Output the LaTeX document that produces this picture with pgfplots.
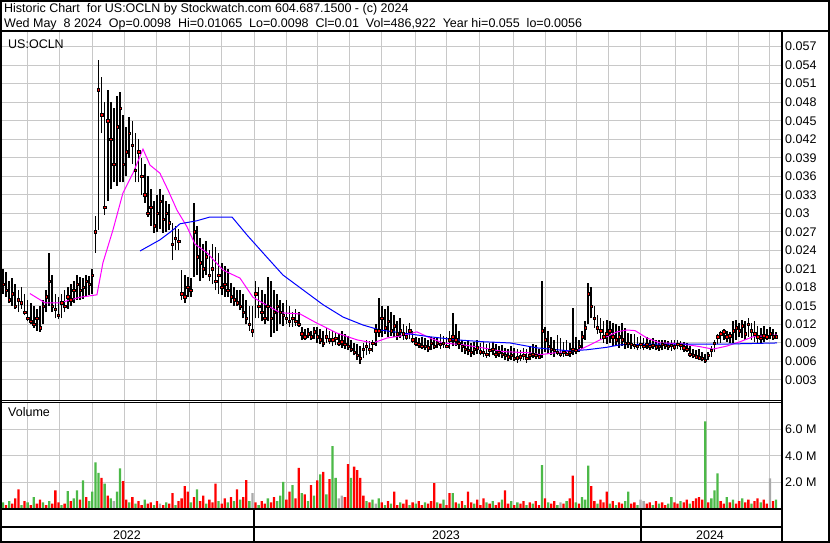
\documentclass[border=0pt]{standalone}
\usepackage{pgfplots}
\pgfplotsset{compat=1.18}
\usepackage{pgfplotstable}
\usepackage{fontspec}
\setmainfont{Liberation Sans}
\definecolor{gridc}{RGB}{200,200,200}
\definecolor{vred}{RGB}{255,0,0}
\definecolor{vgreen}{RGB}{76,185,72}
\definecolor{vgray}{RGB}{170,170,170}
\definecolor{mablue}{RGB}{0,0,255}
\definecolor{mamag}{RGB}{255,0,255}

\pgfplotstableread{
d h l c
0 0.0210 0.0170 0.0185
2 0.0205 0.0165 0.0175
4 0.0190 0.0155 0.0160
6 0.0195 0.0150 0.0170
8 0.0185 0.0145 0.0150
10 0.0175 0.0140 0.0160
12 0.0180 0.0145 0.0155
14 0.0170 0.0135 0.0140
16 0.0160 0.0125 0.0130
18 0.0155 0.0120 0.0125
20 0.0150 0.0115 0.0120
22 0.0145 0.0110 0.0130
24 0.0150 0.0108 0.0115
26 0.0160 0.0120 0.0150
28 0.0175 0.0140 0.0165
30 0.0235 0.0150 0.0190
32 0.0200 0.0140 0.0150
34 0.0170 0.0130 0.0145
36 0.0165 0.0128 0.0135
38 0.0170 0.0130 0.0155
40 0.0175 0.0140 0.0150
42 0.0180 0.0145 0.0165
44 0.0185 0.0150 0.0160
46 0.0190 0.0155 0.0175
48 0.0200 0.0160 0.0185
50 0.0197 0.0160 0.0175
52 0.0195 0.0162 0.0180
54 0.0200 0.0165 0.0190
56 0.0198 0.0168 0.0185
58 0.0210 0.0170 0.0200
60 0.0296 0.0236 0.0270
62 0.0549 0.0273 0.0500
64 0.0520 0.0430 0.0460
66 0.0480 0.0297 0.0310
68 0.0500 0.0320 0.0450
70 0.0480 0.0340 0.0420
72 0.0470 0.0350 0.0380
74 0.0490 0.0345 0.0440
76 0.0497 0.0350 0.0470
78 0.0460 0.0350 0.0380
80 0.0440 0.0360 0.0400
82 0.0456 0.0390 0.0430
84 0.0450 0.0380 0.0410
86 0.0430 0.0350 0.0370
88 0.0420 0.0350 0.0400
90 0.0390 0.0330 0.0360
92 0.0380 0.0317 0.0330
94 0.0360 0.0294 0.0300
96 0.0340 0.0280 0.0310
98 0.0320 0.0268 0.0280
100 0.0330 0.0270 0.0300
102 0.0340 0.0275 0.0320
104 0.0330 0.0268 0.0290
106 0.0320 0.0270 0.0300
108 0.0315 0.0273 0.0285
110 0.0284 0.0224 0.0250
112 0.0280 0.0240 0.0260
114 0.0275 0.0240 0.0255
116 0.0208 0.0160 0.0170
118 0.0200 0.0155 0.0165
120 0.0197 0.0164 0.0180
122 0.0195 0.0165 0.0175
124 0.0317 0.0197 0.0270
126 0.0280 0.0200 0.0230
128 0.0260 0.0190 0.0220
130 0.0250 0.0195 0.0210
132 0.0255 0.0200 0.0230
134 0.0240 0.0190 0.0200
136 0.0250 0.0185 0.0210
138 0.0245 0.0175 0.0190
140 0.0235 0.0170 0.0200
142 0.0220 0.0168 0.0180
144 0.0215 0.0165 0.0185
146 0.0210 0.0165 0.0175
148 0.0187 0.0155 0.0165
150 0.0180 0.0150 0.0160
152 0.0175 0.0150 0.0155
154 0.0176 0.0143 0.0150
156 0.0170 0.0130 0.0140
158 0.0160 0.0120 0.0130
160 0.0150 0.0110 0.0120
162 0.0150 0.0100 0.0110
164 0.0190 0.0130 0.0170
166 0.0180 0.0130 0.0150
168 0.0175 0.0125 0.0140
170 0.0170 0.0120 0.0130
172 0.0197 0.0125 0.0150
174 0.0190 0.0100 0.0130
176 0.0176 0.0106 0.0140
178 0.0170 0.0110 0.0150
180 0.0160 0.0120 0.0140
182 0.0155 0.0118 0.0135
184 0.0160 0.0120 0.0130
186 0.0150 0.0116 0.0125
188 0.0140 0.0116 0.0130
190 0.0145 0.0118 0.0125
192 0.0140 0.0116 0.0120
194 0.0116 0.0095 0.0105
196 0.0112 0.0095 0.0100
198 0.0115 0.0098 0.0105
200 0.0110 0.0095 0.0100
202 0.0116 0.0096 0.0108
204 0.0116 0.0090 0.0100
206 0.0112 0.0088 0.0095
208 0.0110 0.0083 0.0090
210 0.0114 0.0090 0.0100
212 0.0110 0.0088 0.0095
214 0.0110 0.0085 0.0095
216 0.0108 0.0086 0.0098
218 0.0105 0.0085 0.0090
220 0.0110 0.0082 0.0092
222 0.0105 0.0080 0.0088
224 0.0102 0.0079 0.0085
226 0.0095 0.0075 0.0080
228 0.0090 0.0070 0.0075
230 0.0088 0.0062 0.0070
232 0.0085 0.0056 0.0065
234 0.0090 0.0065 0.0080
236 0.0095 0.0070 0.0085
238 0.0093 0.0072 0.0080
240 0.0095 0.0075 0.0090
242 0.0120 0.0085 0.0110
244 0.0163 0.0100 0.0110
246 0.0150 0.0100 0.0130
248 0.0145 0.0105 0.0115
250 0.0150 0.0100 0.0125
252 0.0140 0.0102 0.0110
254 0.0135 0.0100 0.0118
256 0.0125 0.0095 0.0105
258 0.0130 0.0098 0.0110
260 0.0120 0.0095 0.0105
262 0.0118 0.0095 0.0100
264 0.0122 0.0096 0.0110
266 0.0110 0.0090 0.0095
268 0.0100 0.0085 0.0090
270 0.0098 0.0082 0.0088
272 0.0100 0.0080 0.0085
274 0.0098 0.0078 0.0085
276 0.0095 0.0075 0.0082
278 0.0100 0.0078 0.0090
280 0.0098 0.0080 0.0085
282 0.0100 0.0082 0.0090
284 0.0105 0.0080 0.0088
286 0.0102 0.0082 0.0090
288 0.0100 0.0082 0.0085
290 0.0110 0.0080 0.0095
292 0.0139 0.0085 0.0100
294 0.0120 0.0085 0.0095
296 0.0110 0.0080 0.0090
298 0.0095 0.0075 0.0085
300 0.0092 0.0072 0.0080
302 0.0095 0.0070 0.0078
304 0.0090 0.0068 0.0075
306 0.0092 0.0070 0.0080
308 0.0095 0.0072 0.0082
310 0.0090 0.0070 0.0076
312 0.0092 0.0068 0.0075
314 0.0088 0.0066 0.0072
316 0.0090 0.0068 0.0078
318 0.0092 0.0070 0.0080
320 0.0088 0.0066 0.0072
322 0.0085 0.0068 0.0075
324 0.0086 0.0065 0.0072
326 0.0082 0.0062 0.0070
328 0.0080 0.0060 0.0068
330 0.0085 0.0062 0.0070
332 0.0082 0.0060 0.0065
334 0.0080 0.0058 0.0066
336 0.0079 0.0060 0.0068
338 0.0082 0.0062 0.0070
340 0.0080 0.0058 0.0065
342 0.0085 0.0062 0.0070
344 0.0088 0.0065 0.0072
346 0.0086 0.0064 0.0070
348 0.0080 0.0065 0.0068
350 0.0190 0.0066 0.0110
352 0.0116 0.0075 0.0095
354 0.0110 0.0072 0.0085
356 0.0100 0.0070 0.0080
358 0.0095 0.0068 0.0078
360 0.0103 0.0070 0.0075
362 0.0098 0.0068 0.0072
364 0.0092 0.0068 0.0075
366 0.0095 0.0070 0.0072
368 0.0090 0.0068 0.0075
370 0.0147 0.0070 0.0080
372 0.0100 0.0072 0.0078
374 0.0095 0.0075 0.0085
376 0.0110 0.0080 0.0100
378 0.0125 0.0095 0.0115
380 0.0187 0.0120 0.0170
382 0.0180 0.0130 0.0150
384 0.0150 0.0115 0.0130
386 0.0135 0.0105 0.0115
388 0.0130 0.0095 0.0110
390 0.0125 0.0090 0.0100
392 0.0127 0.0088 0.0105
394 0.0125 0.0090 0.0110
396 0.0122 0.0085 0.0100
398 0.0120 0.0085 0.0095
400 0.0118 0.0082 0.0100
402 0.0122 0.0085 0.0095
404 0.0115 0.0080 0.0090
406 0.0106 0.0082 0.0090
408 0.0105 0.0080 0.0088
410 0.0104 0.0080 0.0086
412 0.0100 0.0078 0.0085
414 0.0102 0.0080 0.0088
416 0.0098 0.0078 0.0085
418 0.0100 0.0080 0.0088
420 0.0095 0.0078 0.0085
422 0.0098 0.0080 0.0086
424 0.0095 0.0078 0.0084
426 0.0094 0.0077 0.0085
428 0.0095 0.0078 0.0088
430 0.0094 0.0080 0.0086
432 0.0093 0.0078 0.0085
434 0.0095 0.0077 0.0086
436 0.0094 0.0078 0.0084
438 0.0095 0.0080 0.0088
440 0.0093 0.0078 0.0086
442 0.0092 0.0076 0.0082
444 0.0090 0.0076 0.0080
446 0.0085 0.0068 0.0072
448 0.0080 0.0065 0.0070
450 0.0078 0.0064 0.0068
452 0.0080 0.0062 0.0066
454 0.0075 0.0060 0.0065
456 0.0072 0.0058 0.0062
458 0.0076 0.0062 0.0070
460 0.0085 0.0068 0.0078
462 0.0095 0.0075 0.0090
464 0.0105 0.0088 0.0100
466 0.0110 0.0090 0.0105
468 0.0112 0.0095 0.0108
470 0.0110 0.0092 0.0100
472 0.0108 0.0090 0.0102
474 0.0125 0.0090 0.0110
476 0.0127 0.0095 0.0115
478 0.0122 0.0100 0.0110
480 0.0127 0.0098 0.0118
482 0.0125 0.0095 0.0105
484 0.0130 0.0100 0.0120
486 0.0122 0.0095 0.0110
488 0.0125 0.0092 0.0105
490 0.0118 0.0090 0.0100
492 0.0115 0.0090 0.0098
494 0.0118 0.0092 0.0102
496 0.0112 0.0095 0.0100
498 0.0116 0.0096 0.0105
500 0.0112 0.0095 0.0100
502 0.0107 0.0098 0.0100
}\ohlc

\pgfplotstableread{
d v
2 0.3
6 0.4
8 0.8
10 1.47
14 0.6
18 0.3
22 0.4
24 0.7
28 0.3
32 0.4
34 1.4
36 0.5
40 0.4
44 0.6
50 0.7
54 0.9
64 2.34
68 1.0
78 2.1
80 0.7
84 0.9
88 0.6
90 0.3
94 0.4
96 0.5
100 0.6
104 0.3
108 0.4
110 1.2
114 0.6
116 0.8
118 1.72
120 1.3
124 0.9
128 0.6
130 1.0
134 0.7
136 0.5
138 1.9
142 0.4
144 0.8
148 0.9
152 1.47
156 0.9
158 2.18
164 0.5
168 0.6
170 0.4
174 0.5
176 0.9
184 0.7
186 1.3
190 0.8
192 3.1
196 1.1
200 1.8
204 2.16
208 2.8
212 2.24
222 0.9
224 3.37
228 3.19
230 2.93
232 2.34
234 1.0
238 0.5
246 0.5
250 0.6
254 1.3
256 0.3
260 0.4
262 0.7
266 0.5
270 0.6
272 0.3
276 0.4
278 0.6
280 1.95
284 0.4
288 0.3
290 1.2
294 0.5
298 0.6
302 1.3
304 0.5
308 0.7
310 0.3
312 0.8
316 0.4
320 0.3
322 0.5
326 1.4
328 0.4
332 0.3
336 0.4
338 0.6
342 0.5
346 0.6
348 0.3
352 0.8
356 0.4
358 0.6
364 0.4
368 0.8
370 2.5
374 0.4
382 1.72
384 0.6
388 0.7
390 0.5
392 1.3
396 0.6
400 0.5
402 0.4
408 0.4
410 0.5
418 0.4
420 0.5
424 0.6
428 0.5
430 0.3
436 0.5
438 0.4
442 0.5
444 0.7
448 0.6
450 0.8
452 0.9
454 0.7
458 0.5
466 0.6
468 0.4
472 0.5
476 0.4
478 0.6
482 0.5
484 0.7
488 0.6
490 0.8
494 0.7
496 0.4
500 0.6
}\volred

\pgfplotstableread{
d v
0 0.5
4 0.6
12 0.3
16 0.5
20 0.9
26 0.5
30 0.6
38 0.3
42 1.34
46 0.8
48 1.4
52 2.16
56 0.6
58 1.3
60 3.5
62 2.72
66 1.9
70 0.8
74 1.3
76 3.06
82 0.5
86 0.4
92 0.7
98 0.3
106 0.5
112 0.3
122 0.5
126 1.47
132 0.4
140 0.6
146 0.5
150 0.6
154 0.7
160 0.6
166 0.3
172 0.8
178 0.6
180 1.0
182 2.03
188 1.8
194 1.2
198 0.6
202 1.0
206 2.6
210 1.1
214 4.73
216 2.34
226 2.34
236 0.6
240 0.7
244 0.8
248 0.3
252 0.4
258 0.5
264 0.3
268 0.4
274 0.5
282 0.5
286 0.7
292 1.2
296 0.4
300 0.3
306 0.4
314 0.5
318 0.6
324 0.7
330 0.6
334 0.5
340 0.3
344 0.4
350 3.3
354 0.5
360 0.3
366 0.6
372 0.5
376 0.9
378 0.7
380 3.26
386 0.4
394 0.4
398 0.3
404 0.6
406 1.3
412 0.3
422 0.3
426 0.4
432 0.4
434 0.9
440 0.6
446 0.4
456 6.58
460 0.8
462 1.4
464 2.67
470 0.9
474 0.7
480 0.8
486 0.4
492 0.5
502 0.7
}\volgreen

\pgfplotstableread{
d v
72 0.6
102 0.4
162 1.2
218 0.8
220 1.0
242 0.4
362 0.5
414 0.7
416 0.6
498 2.3
}\volgray

\newcommand{\monthticks}{16,36.6,58.2,78.8,99.5,120.8,142.2,163,183.8,204.5,224.7,245.5,267.9,288.3,309.1,331.5,352,372.7,393.5,413.9,436.4,457.1,477.6,498}

\pgfplotsset{stw/.style={anchor=south west, scale only axis, width=779pt,
  xmin=-0.65, xmax=505.2,
  axis line style={draw=none}, major tick length=0pt, tick style={draw=none},
  xtick/.expand once={\monthticks}, xticklabels={},
  scaled y ticks=false, scaled x ticks=false,
  xmajorgrids, ymajorgrids, grid style={gridc, line width=1pt},
  yticklabel pos=right,
  yticklabel style={anchor=west, inner sep=0pt, xshift=4pt, font=\fontsize{12.5}{13}\selectfont}}}

\begin{document}
\begin{tikzpicture}
\useasboundingbox (0pt,0pt) rectangle (830pt,543pt);
\fill[white] (0pt,0pt) rectangle (830pt,543pt);

% price panel
\begin{axis}[stw, at={(2pt,143pt)}, height=368pt,
  ymin=-0.00024, ymax=0.05937,
  ytick={0.003,0.006,0.009,0.012,0.015,0.018,0.021,0.024,0.027,0.03,0.033,0.036,0.039,0.042,0.045,0.048,0.051,0.054,0.057},
  yticklabels={0.003,0.006,0.009,0.012,0.015,0.018,0.021,0.024,0.027,0.03,0.033,0.036,0.039,0.042,0.045,0.048,0.051,0.054,0.057},
  ]
\addplot[draw=none, mark=none,
  error bars/.cd, y dir=plus, y explicit, error mark=none,
  error bar style={draw=black, line width=1.7pt}]
  table[x=d, y=l, y error plus expr=\thisrow{h}-\thisrow{l}] {\ohlc};
\addplot[only marks, mark=square*, mark size=1.2pt, mark options={fill=red, draw=none}]
  table[x=d, y=c] {\ohlc};
\addplot[mamag, line width=1pt] coordinates {
(17.5,0.0170) (27.3,0.0155) (37.0,0.0155) (50.0,0.0164) (61.0,0.0168) (64.9,0.0220)
(71.4,0.0273) (77.9,0.0333) (84.4,0.0365) (90.9,0.0404) (95.5,0.0378) (101.9,0.0365)
(107.1,0.0338) (113.0,0.0305) (119.5,0.0278) (124.7,0.0250) (132.5,0.0236) (142.9,0.0208)
(153.9,0.0195) (162.3,0.0164) (173.4,0.0148) (179.9,0.0139) (192.9,0.0137) (203.9,0.0122)
(216.9,0.0106) (229.9,0.0095) (240.3,0.0090) (249.4,0.0098) (259.7,0.0102) (268.8,0.0108)
(277.3,0.0098) (285.7,0.0090) (298.7,0.0087) (311.7,0.0082) (324.7,0.0076) (342.2,0.0074)
(348.7,0.0071) (361.7,0.0075) (374.7,0.0079) (387.7,0.0095) (398.7,0.0108) (405.2,0.0111)
(410.4,0.0110) (418.2,0.0098) (426.6,0.0090) (439.6,0.0089) (452.6,0.0084) (461.0,0.0080)
(470.1,0.0085) (478.6,0.0092) (487.0,0.0100) (502.6,0.0103)};
\addplot[mablue, line width=1pt] coordinates {
(89.0,0.0239) (101.9,0.0257) (110.4,0.0273) (114.9,0.0283) (126.0,0.0288) (134.4,0.0294)
(148.7,0.0294) (158.4,0.0265) (168.8,0.0236) (181.8,0.0200) (194.8,0.0176) (207.8,0.0152)
(220.8,0.0132) (233.8,0.0119) (244.8,0.0111) (259.7,0.0106) (277.3,0.0100) (294.8,0.0095)
(311.7,0.0092) (329.2,0.0090) (346.8,0.0082) (368.2,0.0077) (379.2,0.0079) (392.2,0.0083)
(400.6,0.0087) (422.1,0.0088) (465.6,0.0088) (502.6,0.0090)};
\end{axis}

% volume panel
\begin{axis}[stw, at={(2pt,34pt)}, height=106pt,
  ymin=0, ymax=7.97,
  ytick={2,4,6}, yticklabels={2.0 M,4.0 M,6.0 M},
  ]
\addplot[ybar, bar width=2.3pt, bar shift=0pt, fill=vred, draw=none] table[x=d, y=v] {\volred};
\addplot[ybar, bar width=2.3pt, bar shift=0pt, fill=vgreen, draw=none] table[x=d, y=v] {\volgreen};
\addplot[ybar, bar width=2.3pt, bar shift=0pt, fill=vgray, draw=none] table[x=d, y=v] {\volgray};
\end{axis}

\begin{scope}[x=1pt,y=1pt]
% frames
\draw[line width=2pt] (1,1) rectangle (829,542);
\draw[line width=2pt] (0,512) -- (830,512);
\draw[line width=2pt] (781.5,0) -- (781.5,512);
\draw[line width=1pt] (0,142.5) -- (781.5,142.5);
\draw[line width=1.2pt] (0,140.3) -- (781.5,140.3);
\draw[line width=2pt] (0,33.5) -- (781.5,33.5);
\draw[line width=2pt] (0,16) -- (781.5,16);
\draw[line width=1.5pt] (254,1) -- (254,33.5);
\draw[line width=1.5pt] (641,1) -- (641,33.5);

% texts
\node[anchor=base west, inner sep=0pt, font=\fontsize{12.5}{13}\selectfont] at (4,530.5)
  {Historic Chart\ \ for US:OCLN by Stockwatch.com 604.687.1500 - (c) 2024};
\node[anchor=base west, inner sep=0pt, font=\fontsize{12.5}{13}\selectfont] at (4,515)
  {Wed May\ \ 8 2024\ \ Op=0.0098\ \ Hi=0.01065\ \ Lo=0.0098\ \ Cl=0.01\ \ Vol=486,922\ \ Year hi=0.055\ \ lo=0.0056};
\node[anchor=base west, inner sep=0pt, font=\fontsize{12.5}{13}\selectfont] at (8,494) {US:OCLN};
\node[anchor=base west, inner sep=0pt, font=\fontsize{12.5}{13}\selectfont] at (8,126) {Volume};
\node[anchor=base, inner sep=0pt, font=\fontsize{12.5}{13}\selectfont] at (127,3.5) {2022};
\node[anchor=base, inner sep=0pt, font=\fontsize{12.5}{13}\selectfont] at (446,3.5) {2023};
\node[anchor=base, inner sep=0pt, font=\fontsize{12.5}{13}\selectfont] at (710,3.5) {2024};
\end{scope}
\end{tikzpicture}
\end{document}
